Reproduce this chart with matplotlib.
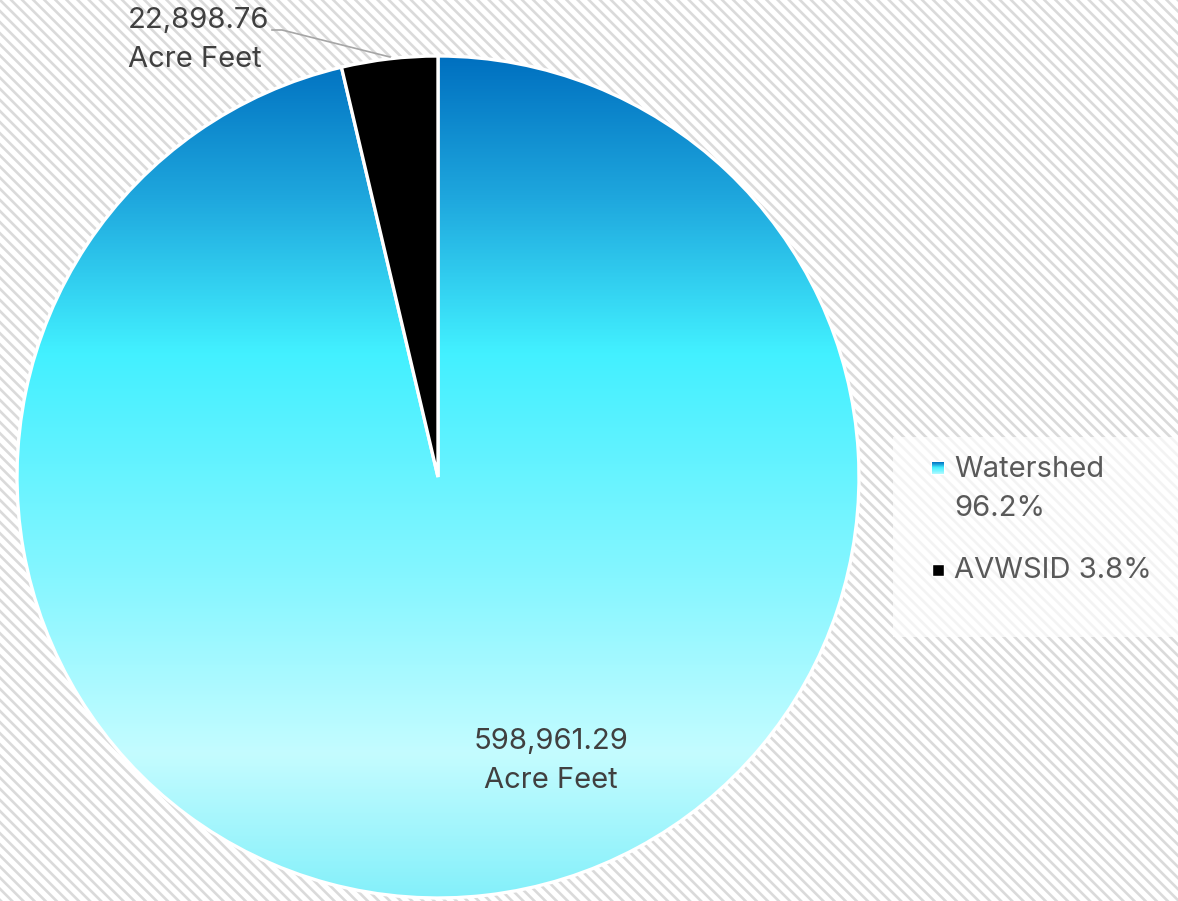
import numpy as np
import matplotlib
matplotlib.use("Agg")
import matplotlib.pyplot as plt
from matplotlib.colors import LinearSegmentedColormap
from matplotlib.patches import Rectangle

# Reservoir storage split (acre feet)
categories = ["Watershed", "AVWSID"]
volumes = [598961.29, 22898.76]
value_labels = ["598,961.29\nAcre Feet", "22,898.76\nAcre Feet"]
legend_labels = ["Watershed\n96.2%", "AVWSID 3.8%"]

plt.rcParams['font.family'] = ['Inter', 'DejaVu Sans']
plt.rcParams['hatch.linewidth'] = 1.9

W, H = 1178, 901
fig = plt.figure(figsize=(W / 100, H / 100), dpi=100)

# diagonal-striped page background
fig.patches.append(Rectangle((0, 0), 1, 1, transform=fig.transFigure,
                             facecolor='white', edgecolor='#dadada', linewidth=0,
                             hatch='\\\\\\', zorder=-10))

ax = fig.add_axes([0, 0, 1, 1])
ax.patch.set_visible(False)

cx, cy, r = 438, H - 477, 421
wedges, _ = ax.pie(volumes, center=(cx, cy), radius=r, startangle=90,
                   counterclock=False, colors=['none', 'black'],
                   wedgeprops=dict(edgecolor='white', linewidth=2.4, zorder=3))

# vertical gradient fill for the Watershed slice
grad_cmap = LinearSegmentedColormap.from_list(
    "water", [(0.0, '#0070c0'), (0.17, '#1fa8de'), (0.35, '#42f0ff'),
              (0.62, '#86f6ff'), (0.83, '#c4fcff'), (1.0, '#84f0fa')])
grad = np.linspace(0, 1, 512).reshape(-1, 1)
img = ax.imshow(grad, cmap=grad_cmap, origin='upper', aspect='auto',
                extent=(cx - r, cx + r, cy - r, cy + r), zorder=2,
                interpolation='bilinear')
img.set_clip_path(wedges[0])

ax.set_xlim(0, W)
ax.set_ylim(0, H)
ax.set_aspect('equal')
ax.axis('off')

FS = 21
LS = 1.55
# value labels
ax.text(551, H - 761, value_labels[0], ha='center', va='center', fontsize=FS,
        color='#404040', linespacing=LS, zorder=5)
ax.text(128, H - 40, value_labels[1], ha='left', va='center', fontsize=FS,
        color='#404040', linespacing=LS, zorder=5)
ax.plot([272, 282, 390], [H - 30, H - 30, H - 57], color='#a6a6a6', lw=1.2, zorder=4)

# legend
ax.add_patch(Rectangle((893, H - 637), 285, 200, facecolor='white', alpha=0.7,
                       edgecolor='none', zorder=4))
marker_y = [H - 468, H - 570]
text_y = [H - 489, H - 571]
for i, (lab, my, ty) in enumerate(zip(legend_labels, marker_y, text_y)):
    if i == 0:
        ax.add_patch(Rectangle((931, my - 7), 14, 14, facecolor='white',
                               edgecolor='none', zorder=5))
        ax.imshow(grad[:400], cmap=grad_cmap, origin='upper', aspect='auto',
                  extent=(932, 944, my - 6, my + 6), zorder=6,
                  vmin=0, vmax=1)
    else:
        ax.add_patch(Rectangle((932, my - 6), 12, 12, facecolor='black',
                               edgecolor='white', linewidth=1, zorder=6))
    ax.text(954, ty, lab, ha='left', va='center', fontsize=FS, color='#595959',
            linespacing=LS, zorder=6)

ax.set_xlim(0, W)
ax.set_ylim(0, H)

fig.savefig("out.png", dpi=100)
